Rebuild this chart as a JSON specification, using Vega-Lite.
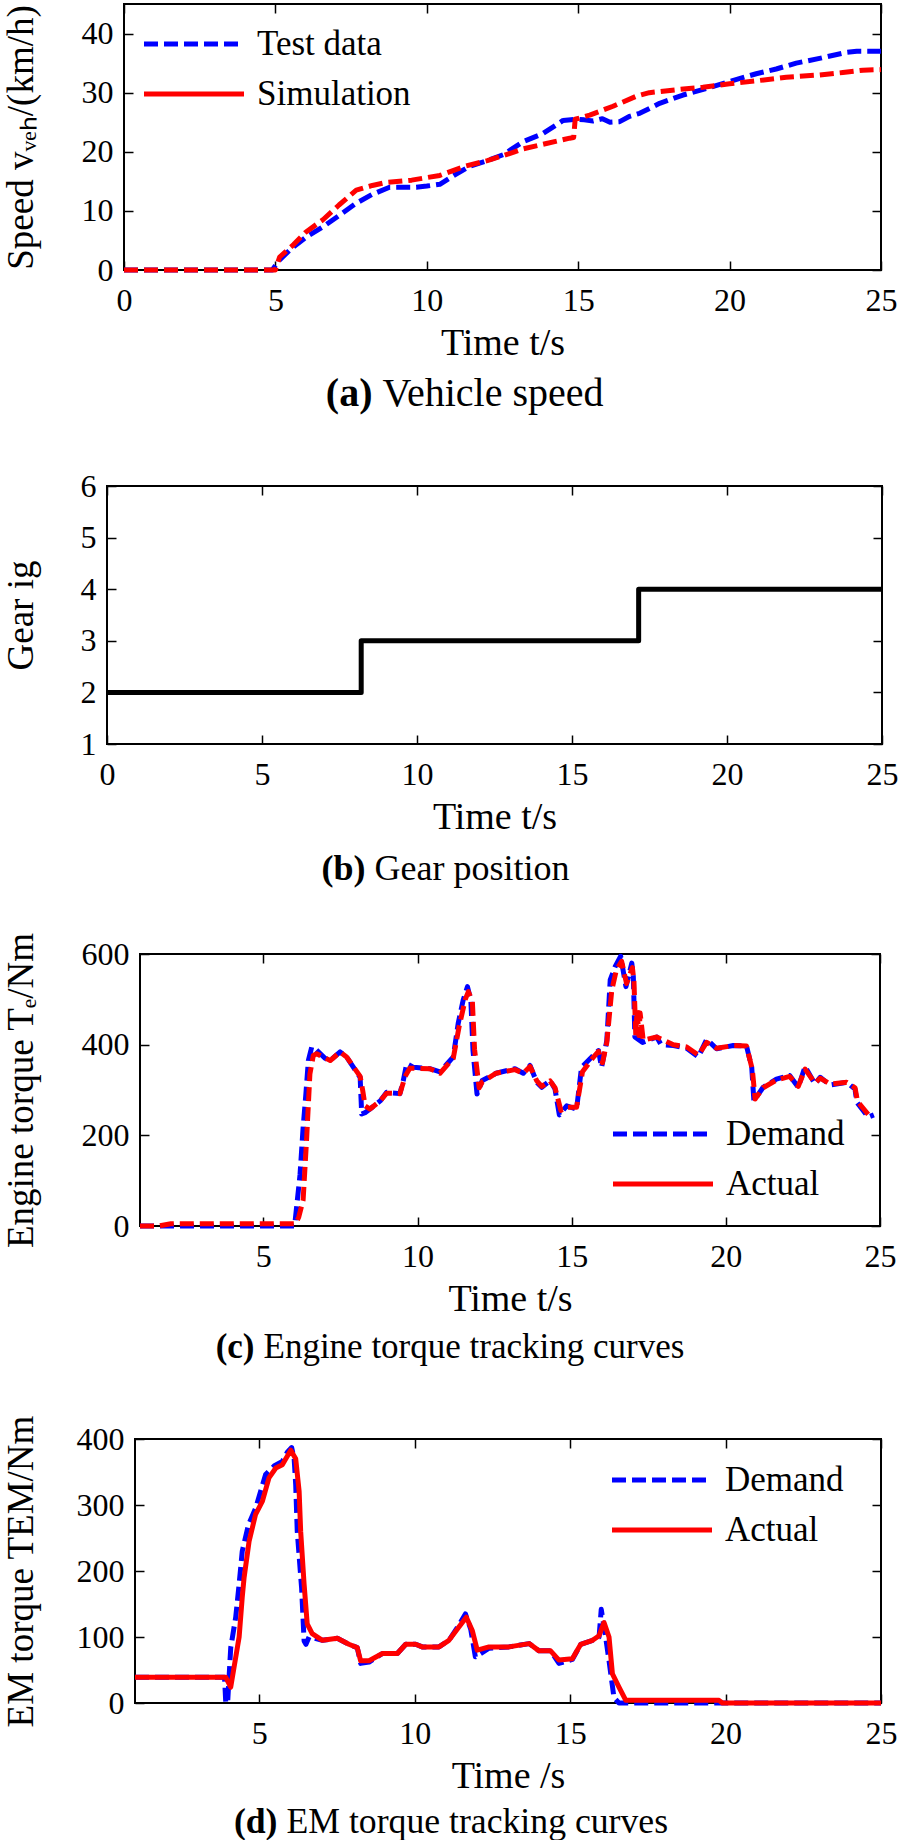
{
  "$schema": "https://vega.github.io/schema/vega-lite/v6.json",
  "background": "white",
  "padding": {"left": 0, "top": 2, "right": 0, "bottom": 0},
  "autosize": {"type": "pad"},
  "spacing": 44,
  "resolve": {"scale": {"color": "independent", "strokeDash": "independent"}, "legend": {"color": "independent", "strokeDash": "independent"}},
  "config": {
    "font": "Liberation Serif",
    "view": {"stroke": "black", "strokeWidth": 2},
    "line": {"strokeCap": "butt", "strokeJoin": "round"},
    "axis": {
      "domain": false, "grid": false, "ticks": true, "tickColor": "black", "tickWidth": 1.5, "tickSize": -9,
      "labelFont": "Liberation Serif", "labelFontSize": 32, "labelColor": "black",
      "labelFlush": false, "labelOverlap": false, "labelBound": false,
      "titleFont": "Liberation Serif", "titleFontSize": 37, "titleFontWeight": "normal", "titleColor": "black"
    },
    "axisX": {"labelPadding": 24, "titlePadding": 8, "titleFontSize": 38},
    "axisY": {"labelPadding": 20},
    "legend": {
      "orient": "none", "direction": "vertical", "title": null, "padding": 0,
      "symbolType": "M-5,0H5", "symbolSize": 400, "symbolStrokeWidth": 5,
      "labelFont": "Liberation Serif", "labelFontSize": 35, "labelColor": "black", "labelLimit": 0,
      "labelOffset": 45.5, "rowPadding": 14
    }
  },
  "datasets": {
    "spacer": [{"k": 0}],
    "speed": [
      {"t":0,"v":0,"s":"Test data"},{"t":4.9,"v":0,"s":"Test data"},{"t":5.1,"v":1.5,"s":"Test data"},{"t":5.5,"v":3.5,"s":"Test data"},{"t":6.0,"v":5.5,"s":"Test data"},{"t":6.57,"v":7.3,"s":"Test data"},{"t":7.1,"v":9.2,"s":"Test data"},{"t":7.67,"v":11.3,"s":"Test data"},{"t":8.2,"v":12.8,"s":"Test data"},{"t":8.77,"v":14.0,"s":"Test data"},{"t":9.65,"v":14.0,"s":"Test data"},{"t":10.0,"v":14.2,"s":"Test data"},{"t":10.43,"v":14.5,"s":"Test data"},{"t":10.9,"v":16.0,"s":"Test data"},{"t":11.4,"v":17.5,"s":"Test data"},{"t":12.0,"v":18.5,"s":"Test data"},{"t":12.52,"v":19.5,"s":"Test data"},{"t":13.18,"v":21.7,"s":"Test data"},{"t":13.84,"v":23.1,"s":"Test data"},{"t":14.5,"v":25.3,"s":"Test data"},{"t":14.9,"v":25.5,"s":"Test data"},{"t":15.2,"v":25.4,"s":"Test data"},{"t":15.49,"v":25.2,"s":"Test data"},{"t":15.8,"v":25.6,"s":"Test data"},{"t":16.05,"v":25.0,"s":"Test data"},{"t":16.37,"v":25.1,"s":"Test data"},{"t":16.7,"v":26.0,"s":"Test data"},{"t":17.03,"v":26.5,"s":"Test data"},{"t":17.69,"v":28.2,"s":"Test data"},{"t":18.46,"v":29.6,"s":"Test data"},{"t":19.23,"v":30.7,"s":"Test data"},{"t":20.0,"v":31.9,"s":"Test data"},{"t":20.88,"v":33.2,"s":"Test data"},{"t":21.54,"v":34.0,"s":"Test data"},{"t":22.2,"v":35.0,"s":"Test data"},{"t":22.97,"v":35.8,"s":"Test data"},{"t":23.85,"v":36.8,"s":"Test data"},{"t":24.2,"v":37.0,"s":"Test data"},{"t":25,"v":37.0,"s":"Test data"},
      {"t":0,"v":0,"s":"Simulation"},{"t":5.0,"v":0,"s":"Simulation"},{"t":5.14,"v":2.2,"s":"Simulation"},{"t":5.6,"v":4.3,"s":"Simulation"},{"t":6.0,"v":6.4,"s":"Simulation"},{"t":6.57,"v":8.5,"s":"Simulation"},{"t":7.1,"v":11.0,"s":"Simulation"},{"t":7.67,"v":13.5,"s":"Simulation"},{"t":8.2,"v":14.3,"s":"Simulation"},{"t":8.65,"v":14.8,"s":"Simulation"},{"t":9.5,"v":15.2,"s":"Simulation"},{"t":10.43,"v":16.0,"s":"Simulation"},{"t":11.3,"v":17.6,"s":"Simulation"},{"t":12.0,"v":18.5,"s":"Simulation"},{"t":12.85,"v":19.9,"s":"Simulation"},{"t":13.18,"v":20.5,"s":"Simulation"},{"t":13.95,"v":21.4,"s":"Simulation"},{"t":14.72,"v":22.3,"s":"Simulation"},{"t":14.85,"v":22.4,"s":"Simulation"},{"t":14.9,"v":25.5,"s":"Simulation"},{"t":15.38,"v":26.2,"s":"Simulation"},{"t":16.15,"v":27.7,"s":"Simulation"},{"t":16.92,"v":29.4,"s":"Simulation"},{"t":17.35,"v":30.0,"s":"Simulation"},{"t":18.24,"v":30.5,"s":"Simulation"},{"t":19.12,"v":30.9,"s":"Simulation"},{"t":20.0,"v":31.5,"s":"Simulation"},{"t":20.88,"v":32.0,"s":"Simulation"},{"t":21.87,"v":32.6,"s":"Simulation"},{"t":22.97,"v":33.0,"s":"Simulation"},{"t":23.74,"v":33.4,"s":"Simulation"},{"t":24.4,"v":33.8,"s":"Simulation"},{"t":25,"v":33.9,"s":"Simulation"}
    ],
    "gear": [
      {"t":0,"g":2},{"t":8.2,"g":3},{"t":17.15,"g":4},{"t":25,"g":4}
    ],
    "eng": [
      {"t":1.0,"v":0,"s":"Demand"},{"t":6.0,"v":0,"s":"Demand"},{"t":6.03,"v":10,"s":"Demand"},{"t":6.19,"v":113,"s":"Demand"},{"t":6.29,"v":217,"s":"Demand"},{"t":6.38,"v":291,"s":"Demand"},{"t":6.46,"v":365,"s":"Demand"},{"t":6.57,"v":395,"s":"Demand"},{"t":6.7,"v":390,"s":"Demand"},{"t":7.0,"v":370,"s":"Demand"},{"t":7.17,"v":365,"s":"Demand"},{"t":7.49,"v":384,"s":"Demand"},{"t":7.7,"v":373,"s":"Demand"},{"t":8.14,"v":328,"s":"Demand"},{"t":8.19,"v":247,"s":"Demand"},{"t":8.3,"v":250,"s":"Demand"},{"t":8.46,"v":258,"s":"Demand"},{"t":8.79,"v":276,"s":"Demand"},{"t":9.0,"v":295,"s":"Demand"},{"t":9.43,"v":292,"s":"Demand"},{"t":9.54,"v":321,"s":"Demand"},{"t":9.65,"v":358,"s":"Demand"},{"t":9.87,"v":350,"s":"Demand"},{"t":10.4,"v":347,"s":"Demand"},{"t":10.73,"v":340,"s":"Demand"},{"t":11.16,"v":373,"s":"Demand"},{"t":11.32,"v":447,"s":"Demand"},{"t":11.48,"v":498,"s":"Demand"},{"t":11.62,"v":528,"s":"Demand"},{"t":11.73,"v":498,"s":"Demand"},{"t":11.8,"v":387,"s":"Demand"},{"t":11.93,"v":291,"s":"Demand"},{"t":12.1,"v":321,"s":"Demand"},{"t":12.55,"v":337,"s":"Demand"},{"t":13.16,"v":347,"s":"Demand"},{"t":13.43,"v":337,"s":"Demand"},{"t":13.65,"v":354,"s":"Demand"},{"t":13.87,"v":317,"s":"Demand"},{"t":14.03,"v":306,"s":"Demand"},{"t":14.3,"v":321,"s":"Demand"},{"t":14.46,"v":302,"s":"Demand"},{"t":14.6,"v":245,"s":"Demand"},{"t":14.84,"v":265,"s":"Demand"},{"t":15.16,"v":258,"s":"Demand"},{"t":15.32,"v":350,"s":"Demand"},{"t":15.7,"v":376,"s":"Demand"},{"t":15.87,"v":387,"s":"Demand"},{"t":15.97,"v":350,"s":"Demand"},{"t":16.14,"v":409,"s":"Demand"},{"t":16.25,"v":543,"s":"Demand"},{"t":16.41,"v":572,"s":"Demand"},{"t":16.59,"v":595,"s":"Demand"},{"t":16.76,"v":528,"s":"Demand"},{"t":16.95,"v":580,"s":"Demand"},{"t":17.0,"v":550,"s":"Demand"},{"t":17.05,"v":417,"s":"Demand"},{"t":17.3,"v":405,"s":"Demand"},{"t":17.76,"v":417,"s":"Demand"},{"t":17.9,"v":400,"s":"Demand"},{"t":18.3,"v":398,"s":"Demand"},{"t":18.73,"v":392,"s":"Demand"},{"t":19.11,"v":373,"s":"Demand"},{"t":19.38,"v":412,"s":"Demand"},{"t":19.7,"v":391,"s":"Demand"},{"t":20.24,"v":398,"s":"Demand"},{"t":20.67,"v":397,"s":"Demand"},{"t":20.84,"v":350,"s":"Demand"},{"t":20.91,"v":276,"s":"Demand"},{"t":21.0,"v":285,"s":"Demand"},{"t":21.21,"v":306,"s":"Demand"},{"t":21.64,"v":324,"s":"Demand"},{"t":22.07,"v":332,"s":"Demand"},{"t":22.35,"v":306,"s":"Demand"},{"t":22.57,"v":352,"s":"Demand"},{"t":22.89,"v":313,"s":"Demand"},{"t":23.06,"v":328,"s":"Demand"},{"t":23.38,"v":311,"s":"Demand"},{"t":23.92,"v":317,"s":"Demand"},{"t":24.19,"v":302,"s":"Demand"},{"t":24.25,"v":273,"s":"Demand"},{"t":24.62,"v":240,"s":"Demand"},{"t":24.8,"v":245,"s":"Demand"},
      {"t":1.0,"v":0,"s":"Actual"},{"t":1.6,"v":0,"s":"Actual"},{"t":2.0,"v":5,"s":"Actual"},{"t":6.05,"v":5,"s":"Actual"},{"t":6.15,"v":20,"s":"Actual"},{"t":6.29,"v":57,"s":"Actual"},{"t":6.4,"v":187,"s":"Actual"},{"t":6.51,"v":335,"s":"Actual"},{"t":6.62,"v":376,"s":"Actual"},{"t":6.73,"v":380,"s":"Actual"},{"t":7.17,"v":365,"s":"Actual"},{"t":7.49,"v":384,"s":"Actual"},{"t":7.7,"v":373,"s":"Actual"},{"t":8.14,"v":330,"s":"Actual"},{"t":8.22,"v":300,"s":"Actual"},{"t":8.3,"v":265,"s":"Actual"},{"t":8.46,"v":258,"s":"Actual"},{"t":8.79,"v":276,"s":"Actual"},{"t":9.0,"v":293,"s":"Actual"},{"t":9.43,"v":292,"s":"Actual"},{"t":9.6,"v":330,"s":"Actual"},{"t":9.75,"v":348,"s":"Actual"},{"t":10.4,"v":347,"s":"Actual"},{"t":10.73,"v":337,"s":"Actual"},{"t":11.16,"v":370,"s":"Actual"},{"t":11.35,"v":440,"s":"Actual"},{"t":11.55,"v":500,"s":"Actual"},{"t":11.65,"v":517,"s":"Actual"},{"t":11.78,"v":495,"s":"Actual"},{"t":11.85,"v":390,"s":"Actual"},{"t":12.0,"v":305,"s":"Actual"},{"t":12.1,"v":318,"s":"Actual"},{"t":12.55,"v":337,"s":"Actual"},{"t":13.16,"v":345,"s":"Actual"},{"t":13.43,"v":337,"s":"Actual"},{"t":13.65,"v":352,"s":"Actual"},{"t":13.87,"v":320,"s":"Actual"},{"t":14.03,"v":308,"s":"Actual"},{"t":14.3,"v":320,"s":"Actual"},{"t":14.46,"v":305,"s":"Actual"},{"t":14.65,"v":255,"s":"Actual"},{"t":14.84,"v":262,"s":"Actual"},{"t":15.16,"v":262,"s":"Actual"},{"t":15.35,"v":340,"s":"Actual"},{"t":15.7,"v":372,"s":"Actual"},{"t":15.87,"v":385,"s":"Actual"},{"t":16.0,"v":360,"s":"Actual"},{"t":16.14,"v":405,"s":"Actual"},{"t":16.3,"v":520,"s":"Actual"},{"t":16.45,"v":565,"s":"Actual"},{"t":16.62,"v":584,"s":"Actual"},{"t":16.78,"v":535,"s":"Actual"},{"t":16.97,"v":570,"s":"Actual"},{"t":17.02,"v":540,"s":"Actual"},{"t":17.08,"v":420,"s":"Actual"},{"t":17.12,"v":476,"s":"Actual"},{"t":17.18,"v":420,"s":"Actual"},{"t":17.22,"v":470,"s":"Actual"},{"t":17.32,"v":410,"s":"Actual"},{"t":17.76,"v":417,"s":"Actual"},{"t":18.3,"v":400,"s":"Actual"},{"t":18.73,"v":395,"s":"Actual"},{"t":19.11,"v":377,"s":"Actual"},{"t":19.38,"v":405,"s":"Actual"},{"t":19.7,"v":392,"s":"Actual"},{"t":20.24,"v":398,"s":"Actual"},{"t":20.67,"v":397,"s":"Actual"},{"t":20.86,"v":345,"s":"Actual"},{"t":20.95,"v":280,"s":"Actual"},{"t":21.21,"v":305,"s":"Actual"},{"t":21.64,"v":322,"s":"Actual"},{"t":22.07,"v":330,"s":"Actual"},{"t":22.35,"v":308,"s":"Actual"},{"t":22.57,"v":346,"s":"Actual"},{"t":22.89,"v":315,"s":"Actual"},{"t":23.06,"v":326,"s":"Actual"},{"t":23.38,"v":313,"s":"Actual"},{"t":23.92,"v":317,"s":"Actual"},{"t":24.19,"v":305,"s":"Actual"},{"t":24.27,"v":275,"s":"Actual"},{"t":24.62,"v":246,"s":"Actual"},{"t":24.8,"v":248,"s":"Actual"}
    ],
    "em": [
      {"t":1.0,"v":39,"s":"Demand"},{"t":3.88,"v":39,"s":"Demand"},{"t":3.92,"v":0,"s":"Demand"},{"t":3.98,"v":0,"s":"Demand"},{"t":4.03,"v":42,"s":"Demand"},{"t":4.08,"v":84,"s":"Demand"},{"t":4.24,"v":130,"s":"Demand"},{"t":4.35,"v":180,"s":"Demand"},{"t":4.45,"v":230,"s":"Demand"},{"t":4.65,"v":270,"s":"Demand"},{"t":4.88,"v":295,"s":"Demand"},{"t":5.2,"v":346,"s":"Demand"},{"t":5.5,"v":360,"s":"Demand"},{"t":5.74,"v":366,"s":"Demand"},{"t":5.9,"v":380,"s":"Demand"},{"t":6.04,"v":387,"s":"Demand"},{"t":6.12,"v":370,"s":"Demand"},{"t":6.17,"v":331,"s":"Demand"},{"t":6.22,"v":260,"s":"Demand"},{"t":6.36,"v":174,"s":"Demand"},{"t":6.44,"v":94,"s":"Demand"},{"t":6.5,"v":89,"s":"Demand"},{"t":6.6,"v":100,"s":"Demand"},{"t":7.03,"v":95,"s":"Demand"},{"t":7.51,"v":98,"s":"Demand"},{"t":7.88,"v":89,"s":"Demand"},{"t":8.15,"v":84,"s":"Demand"},{"t":8.26,"v":60,"s":"Demand"},{"t":8.53,"v":62,"s":"Demand"},{"t":8.96,"v":75,"s":"Demand"},{"t":9.44,"v":75,"s":"Demand"},{"t":9.71,"v":89,"s":"Demand"},{"t":10.03,"v":89,"s":"Demand"},{"t":10.24,"v":85,"s":"Demand"},{"t":10.78,"v":85,"s":"Demand"},{"t":11.1,"v":95,"s":"Demand"},{"t":11.42,"v":118,"s":"Demand"},{"t":11.63,"v":135,"s":"Demand"},{"t":11.8,"v":112,"s":"Demand"},{"t":11.95,"v":70,"s":"Demand"},{"t":12.39,"v":83,"s":"Demand"},{"t":13.03,"v":85,"s":"Demand"},{"t":13.68,"v":90,"s":"Demand"},{"t":14.0,"v":79,"s":"Demand"},{"t":14.37,"v":79,"s":"Demand"},{"t":14.64,"v":60,"s":"Demand"},{"t":15.07,"v":66,"s":"Demand"},{"t":15.34,"v":89,"s":"Demand"},{"t":15.72,"v":95,"s":"Demand"},{"t":15.93,"v":100,"s":"Demand"},{"t":16.0,"v":142,"s":"Demand"},{"t":16.14,"v":100,"s":"Demand"},{"t":16.25,"v":64,"s":"Demand"},{"t":16.41,"v":8,"s":"Demand"},{"t":16.57,"v":0,"s":"Demand"},{"t":25.0,"v":0,"s":"Demand"},
      {"t":1.0,"v":39,"s":"Actual"},{"t":3.92,"v":39,"s":"Actual"},{"t":4.08,"v":24,"s":"Actual"},{"t":4.24,"v":69,"s":"Actual"},{"t":4.35,"v":100,"s":"Actual"},{"t":4.45,"v":160,"s":"Actual"},{"t":4.51,"v":190,"s":"Actual"},{"t":4.67,"v":245,"s":"Actual"},{"t":4.88,"v":286,"s":"Actual"},{"t":5.1,"v":306,"s":"Actual"},{"t":5.31,"v":341,"s":"Actual"},{"t":5.53,"v":356,"s":"Actual"},{"t":5.74,"v":361,"s":"Actual"},{"t":6.01,"v":383,"s":"Actual"},{"t":6.17,"v":370,"s":"Actual"},{"t":6.28,"v":321,"s":"Actual"},{"t":6.33,"v":260,"s":"Actual"},{"t":6.44,"v":180,"s":"Actual"},{"t":6.54,"v":120,"s":"Actual"},{"t":6.7,"v":105,"s":"Actual"},{"t":7.03,"v":95,"s":"Actual"},{"t":7.51,"v":98,"s":"Actual"},{"t":7.88,"v":89,"s":"Actual"},{"t":8.15,"v":84,"s":"Actual"},{"t":8.26,"v":64,"s":"Actual"},{"t":8.53,"v":64,"s":"Actual"},{"t":8.96,"v":75,"s":"Actual"},{"t":9.44,"v":75,"s":"Actual"},{"t":9.71,"v":89,"s":"Actual"},{"t":10.03,"v":89,"s":"Actual"},{"t":10.24,"v":85,"s":"Actual"},{"t":10.78,"v":85,"s":"Actual"},{"t":11.1,"v":95,"s":"Actual"},{"t":11.42,"v":115,"s":"Actual"},{"t":11.66,"v":130,"s":"Actual"},{"t":11.85,"v":110,"s":"Actual"},{"t":12.01,"v":80,"s":"Actual"},{"t":12.39,"v":85,"s":"Actual"},{"t":13.03,"v":85,"s":"Actual"},{"t":13.68,"v":90,"s":"Actual"},{"t":14.0,"v":79,"s":"Actual"},{"t":14.37,"v":79,"s":"Actual"},{"t":14.64,"v":65,"s":"Actual"},{"t":15.07,"v":67,"s":"Actual"},{"t":15.34,"v":89,"s":"Actual"},{"t":15.72,"v":95,"s":"Actual"},{"t":15.93,"v":102,"s":"Actual"},{"t":16.09,"v":122,"s":"Actual"},{"t":16.25,"v":100,"s":"Actual"},{"t":16.36,"v":44,"s":"Actual"},{"t":16.57,"v":24,"s":"Actual"},{"t":16.79,"v":4,"s":"Actual"},{"t":19.79,"v":4,"s":"Actual"},{"t":19.9,"v":0,"s":"Actual"},{"t":25.0,"v":0,"s":"Actual"}
    ]
  },
  "vconcat": [
    {
      "spacing": 55,
      "resolve": {"scale": {"color": "independent", "strokeDash": "independent"}, "legend": {"color": "independent", "strokeDash": "independent"}},
      "vconcat": [
        {"spacing": 0,
         "resolve": {"scale": {"color": "independent", "strokeDash": "independent"}, "legend": {"color": "independent", "strokeDash": "independent"}},
         "hconcat": [
        {"width": 1, "height": 1, "view": {"stroke": null}, "data": {"name": "spacer"}, "transform": [{"filter": "false"}], "mark": {"type": "point", "opacity": 0}, "encoding": {}},
        {
          "width": 757, "height": 266,
          "data": {"name": "speed"},
          "layer": [
            {
              "encoding": {
                "x": {"field": "t", "type": "quantitative", "scale": {"domain": [0, 25], "nice": false, "zero": false},
                      "axis": {"values": [0,5,10,15,20,25], "title": "Time t/s"}},
                "y": {"field": "v", "type": "quantitative", "scale": {"domain": [0, 45], "nice": false},
                      "axis": {"values": [0,10,20,30,40], "title": "Speed vᵥₑₕ/(km/h)", "titlePadding": 40.7}},
                "color": {"field": "s", "type": "nominal",
                          "scale": {"domain": ["Test data", "Simulation"], "range": ["#0000ff", "#ff0000"]},
                          "legend": {"legendX": 52.5, "legendY": 22.5, "encode": {"labels": {"update": {"dy": {"value": 4}}}}}}
              },
              "layer": [
                {"transform": [{"filter": "datum.s === 'Test data'"}], "mark": {"type": "line", "strokeWidth": 5, "strokeDash": [14, 6]}},
                {"transform": [{"filter": "datum.s === 'Simulation'"}], "mark": {"type": "line", "strokeWidth": 5, "strokeDash": [14, 6]}},
                {"transform": [{"filter": "false"}], "mark": {"type": "line", "strokeWidth": 5},
                 "encoding": {"strokeDash": {"field": "s", "type": "nominal",
                   "scale": {"domain": ["Test data", "Simulation"], "range": [[14, 6], [1, 0]]},
                   "legend": {"legendX": 52.5, "legendY": 22.5, "encode": {"labels": {"update": {"dy": {"value": 4}}}}}}}}
              ]
            },
            {
              "mark": {"type": "line", "opacity": 0},
              "encoding": {
                "x": {"field": "t", "type": "quantitative", "scale": {"domain": [0, 25], "nice": false, "zero": false},
                      "axis": {"orient": "top", "values": [0,5,10,15,20,25], "labels": false, "title": "Vehicle speed",
                               "titleX": 258, "titleY": 401, "titleAlign": "left", "titleBaseline": "alphabetic", "titleFontSize": 40, "titleAngle": 0}},
                "y": {"field": "v", "type": "quantitative", "scale": {"domain": [0, 45], "nice": false},
                      "axis": {"orient": "right", "values": [0,10,20,30,40], "labels": false, "title": "(a)",
                               "titleX": -509, "titleY": 401, "titleAlign": "right", "titleBaseline": "alphabetic", "titleAngle": 0, "titleFontSize": 40, "titleFontWeight": "bold"}}
              }
            }
          ],
          "resolve": {"axis": {"x": "independent", "y": "independent"}}
        }]},
        {"spacing": 0,
         "resolve": {"scale": {"color": "independent", "strokeDash": "independent"}, "legend": {"color": "independent", "strokeDash": "independent"}},
         "hconcat": [
        {"width": 1, "height": 1, "view": {"stroke": null}, "data": {"name": "spacer"}, "transform": [{"filter": "false"}], "mark": {"type": "point", "opacity": 0}, "encoding": {}},
        {
          "width": 775, "height": 258,
          "data": {"name": "gear"},
          "layer": [
            {
              "mark": {"type": "line", "interpolate": "step-after", "color": "black", "strokeWidth": 5},
              "encoding": {
                "x": {"field": "t", "type": "quantitative", "scale": {"domain": [0, 25], "nice": false, "zero": false},
                      "axis": {"values": [0,5,10,15,20,25], "title": "Time t/s"}},
                "y": {"field": "g", "type": "quantitative", "scale": {"domain": [1, 6], "nice": false, "zero": false},
                      "axis": {"values": [1,2,3,4,5,6], "title": "Gear ig", "titlePadding": 39.1}}
              }
            },
            {
              "mark": {"type": "line", "opacity": 0},
              "encoding": {
                "x": {"field": "t", "type": "quantitative", "scale": {"domain": [0, 25], "nice": false, "zero": false},
                      "axis": {"orient": "top", "values": [0,5,10,15,20,25], "labels": false, "title": "Gear position",
                               "titleX": 267, "titleY": 393, "titleAlign": "left", "titleBaseline": "alphabetic", "titleFontSize": 36, "titleAngle": 0}},
                "y": {"field": "g", "type": "quantitative", "scale": {"domain": [1, 6], "nice": false, "zero": false},
                      "axis": {"orient": "right", "values": [1,2,3,4,5,6], "labels": false, "title": "(b)",
                               "titleX": -517, "titleY": 393, "titleAlign": "right", "titleBaseline": "alphabetic", "titleAngle": 0, "titleFontSize": 36, "titleFontWeight": "bold"}}
              }
            }
          ],
          "resolve": {"axis": {"x": "independent", "y": "independent"}}
        }]}
      ]
    },
    {
      "spacing": 48,
      "resolve": {"scale": {"color": "independent", "strokeDash": "independent"}, "legend": {"color": "independent", "strokeDash": "independent"}},
      "vconcat": [
        {"spacing": 0,
         "resolve": {"scale": {"color": "independent", "strokeDash": "independent"}, "legend": {"color": "independent", "strokeDash": "independent"}},
         "hconcat": [
        {"width": 1, "height": 1, "view": {"stroke": null}, "data": {"name": "spacer"}, "transform": [{"filter": "false"}], "mark": {"type": "point", "opacity": 0}, "encoding": {}},
        {
          "width": 740, "height": 272,
          "data": {"name": "eng"},
          "layer": [
            {
              "encoding": {
                "x": {"field": "t", "type": "quantitative", "scale": {"domain": [1, 25], "nice": false, "zero": false},
                      "axis": {"values": [5,10,15,20,25], "title": "Time t/s"}},
                "y": {"field": "v", "type": "quantitative", "scale": {"domain": [0, 600], "nice": false},
                      "axis": {"values": [0,200,400,600], "title": "Engine torque Tₑ/Nm", "titlePadding": 40.7}},
                "color": {"field": "s", "type": "nominal",
                          "scale": {"domain": ["Demand", "Actual"], "range": ["#0000ff", "#ff0000"]},
                          "legend": {"legendX": 505.5, "legendY": 162.5, "encode": {"labels": {"update": {"dy": {"value": 4}}}}}}
              },
              "layer": [
                {"transform": [{"filter": "datum.s === 'Demand'"}], "mark": {"type": "line", "strokeWidth": 5, "strokeDash": [14, 6]}},
                {"transform": [{"filter": "datum.s === 'Actual'"}], "mark": {"type": "line", "strokeWidth": 5, "strokeDash": [14, 6]}},
                {"transform": [{"filter": "false"}], "mark": {"type": "line", "strokeWidth": 5},
                 "encoding": {"strokeDash": {"field": "s", "type": "nominal",
                   "scale": {"domain": ["Demand", "Actual"], "range": [[14, 6], [1, 0]]},
                   "legend": {"legendX": 505.5, "legendY": 162.5, "encode": {"labels": {"update": {"dy": {"value": 4}}}}}}}}
              ]
            },
            {
              "mark": {"type": "line", "opacity": 0},
              "encoding": {
                "x": {"field": "t", "type": "quantitative", "scale": {"domain": [1, 25], "nice": false, "zero": false},
                      "axis": {"orient": "top", "values": [5,10,15,20,25], "labels": false, "title": "Engine torque tracking curves",
                               "titleX": 123, "titleY": 403, "titleAlign": "left", "titleBaseline": "alphabetic", "titleFontSize": 35, "titleAngle": 0}},
                "y": {"field": "v", "type": "quantitative", "scale": {"domain": [0, 600], "nice": false},
                      "axis": {"orient": "right", "values": [0,200,400,600], "labels": false, "title": "(c)",
                               "titleX": -626, "titleY": 403, "titleAlign": "right", "titleBaseline": "alphabetic", "titleAngle": 0, "titleFontSize": 35, "titleFontWeight": "bold"}}
              }
            }
          ],
          "resolve": {"axis": {"x": "independent", "y": "independent"}}
        }]},
        {"spacing": 0,
         "resolve": {"scale": {"color": "independent", "strokeDash": "independent"}, "legend": {"color": "independent", "strokeDash": "independent"}},
         "hconcat": [
        {"width": 1, "height": 1, "view": {"stroke": null}, "data": {"name": "spacer"}, "transform": [{"filter": "false"}], "mark": {"type": "point", "opacity": 0}, "encoding": {}},
        {
          "width": 746, "height": 264,
          "data": {"name": "em"},
          "layer": [
            {
              "encoding": {
                "x": {"field": "t", "type": "quantitative", "scale": {"domain": [1, 25], "nice": false, "zero": false},
                      "axis": {"values": [5,10,15,20,25], "title": "Time /s"}},
                "y": {"field": "v", "type": "quantitative", "scale": {"domain": [0, 400], "nice": false},
                      "axis": {"values": [0,100,200,300,400], "title": "EM torque TEM/Nm", "titlePadding": 35.4}},
                "color": {"field": "s", "type": "nominal",
                          "scale": {"domain": ["Demand", "Actual"], "range": ["#0000ff", "#ff0000"]},
                          "legend": {"legendX": 509.5, "legendY": 23.5, "encode": {"labels": {"update": {"dy": {"value": 4}}}}}}
              },
              "layer": [
                {"transform": [{"filter": "datum.s === 'Demand'"}], "mark": {"type": "line", "strokeWidth": 5, "strokeDash": [14, 6]}},
                {"transform": [{"filter": "datum.s === 'Actual'"}], "mark": {"type": "line", "strokeWidth": 5}},
                {"transform": [{"filter": "false"}], "mark": {"type": "line", "strokeWidth": 5},
                 "encoding": {"strokeDash": {"field": "s", "type": "nominal",
                   "scale": {"domain": ["Demand", "Actual"], "range": [[14, 6], [1, 0]]},
                   "legend": {"legendX": 509.5, "legendY": 23.5, "encode": {"labels": {"update": {"dy": {"value": 4}}}}}}}}
              ]
            },
            {
              "mark": {"type": "line", "opacity": 0},
              "encoding": {
                "x": {"field": "t", "type": "quantitative", "scale": {"domain": [1, 25], "nice": false, "zero": false},
                      "axis": {"orient": "top", "values": [5,10,15,20,25], "labels": false, "title": "EM torque tracking curves",
                               "titleX": 151, "titleY": 393, "titleAlign": "left", "titleBaseline": "alphabetic", "titleFontSize": 35.7, "titleAngle": 0}},
                "y": {"field": "v", "type": "quantitative", "scale": {"domain": [0, 400], "nice": false},
                      "axis": {"orient": "right", "values": [0,100,200,300,400], "labels": false, "title": "(d)",
                               "titleX": -604, "titleY": 393, "titleAlign": "right", "titleBaseline": "alphabetic", "titleAngle": 0, "titleFontSize": 35.7, "titleFontWeight": "bold"}}
              }
            }
          ],
          "resolve": {"axis": {"x": "independent", "y": "independent"}}
        }]}
      ]
    }
  ]
}
